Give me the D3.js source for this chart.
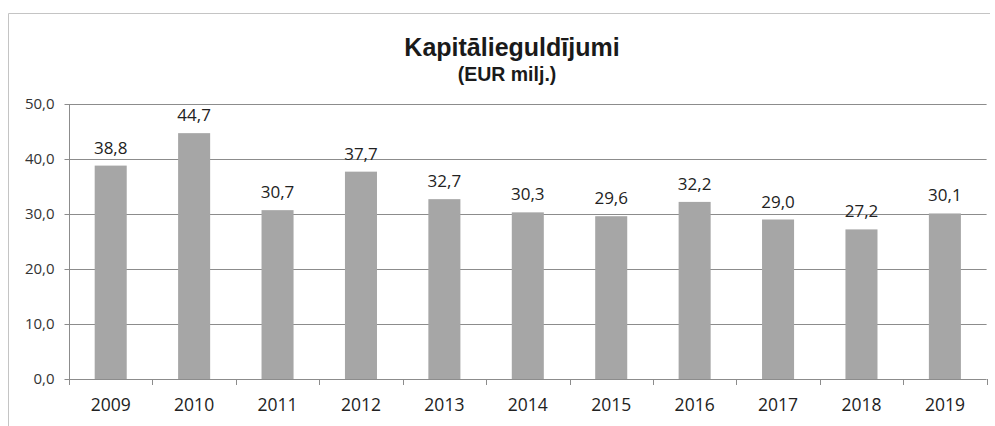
<!DOCTYPE html>
<html><head><meta charset="utf-8">
<script src="https://cdn.jsdelivr.net/npm/d3@7"></script>
<style>body{margin:0;background:#fff}svg{display:block}</style>
</head><body>
<svg id="c" width="995" height="426"></svg>
<script>
const years = ["2009","2010","2011","2012","2013","2014","2015","2016","2017","2018","2019"];
const values = [38.8,44.7,30.7,37.7,32.7,30.3,29.6,32.2,29.0,27.2,30.1];
const yTicks = [0,10,20,30,40,50];
const title = "Kapitālieguldījumi";
const subtitle = "(EUR milj.)";

const svg = d3.select("#c");
const m = {l:69, r:986.6, t:104, b:379};
const fmt = v => v.toFixed(1).replace(".", ",");

svg.append("path").attr("d","M8.5,426 V13.5 H990").attr("fill","none").attr("stroke","#c4c4c4").attr("stroke-width",1);

const x = d3.scaleBand().domain(years).range([m.l, m.r]).paddingInner(0.616).paddingOuter(0.308);
const y = d3.scaleLinear().domain([0,50]).range([m.b, m.t]);

// gridlines
svg.append("g").selectAll("line").data(yTicks.filter(d=>d>0)).join("line")
  .attr("x1", m.l).attr("x2", m.r).attr("y1", d=>y(d)+0.5).attr("y2", d=>y(d)+0.5)
  .attr("stroke","#8c8c8c").attr("stroke-width",1);

// bars
svg.append("g").selectAll("rect").data(values).join("rect")
  .attr("x",(d,i)=>x(years[i])).attr("width",x.bandwidth())
  .attr("y",d=>y(d)).attr("height",d=>y(0)-y(d)).attr("fill","#a6a6a6");

// y axis
const ya = svg.append("g").attr("transform",`translate(${m.l+0.5},0)`)
  .call(d3.axisLeft(y).tickValues(yTicks).tickFormat(fmt).tickSize(5).tickPadding(10));
ya.select(".domain").attr("stroke","#8c8c8c").attr("d",`M0,${m.t}V${m.b}`);
ya.selectAll(".tick line").attr("stroke","#8c8c8c");
ya.selectAll("text").attr("font-family","Open Sans").attr("font-size",15).attr("fill","#333");

// x axis
const xa = svg.append("g").attr("transform",`translate(0,${m.b+0.5})`)
  .call(d3.axisBottom(x).tickSize(0).tickPadding(19));
xa.select(".domain").attr("stroke","#8c8c8c").attr("d",`M${m.l},0H${m.r}`);
xa.selectAll("text").attr("font-family","Open Sans").attr("font-size",17.5).attr("fill","#222");
const step = x.step();
svg.append("g").selectAll("line").data(d3.range(years.length+1)).join("line")
  .attr("x1",i=>Math.round(m.l+i*step)+0.5).attr("x2",i=>Math.round(m.l+i*step)+0.5)
  .attr("y1",m.b).attr("y2",m.b+6).attr("stroke","#8c8c8c");

// value labels
svg.append("g").selectAll("text").data(values).join("text")
  .attr("x",(d,i)=>x(years[i])+x.bandwidth()/2).attr("y",d=>y(d)-12)
  .attr("text-anchor","middle").attr("font-family","Open Sans").attr("font-size",17).attr("fill","#222")
  .text(fmt);

svg.append("text").attr("x",512).attr("y",56).attr("text-anchor","middle")
  .attr("font-family","Liberation Sans").attr("font-weight","bold").attr("font-size",25).attr("fill","#1a1a1a").text(title);
svg.append("text").attr("x",507).attr("y",81).attr("text-anchor","middle")
  .attr("font-family","Liberation Sans").attr("font-weight","bold").attr("font-size",19.5).attr("fill","#1a1a1a").text(subtitle);
</script>
</body></html>
